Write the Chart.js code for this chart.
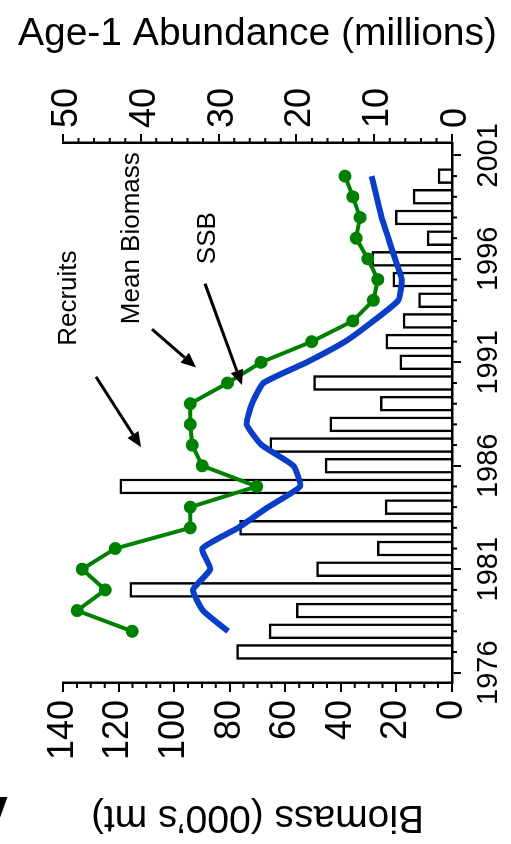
<!DOCTYPE html>
<html>
<head>
<meta charset="utf-8">
<script src="https://cdn.jsdelivr.net/npm/chart.js@4.4.0/dist/chart.umd.min.js"></script>
<style>
  html, body { margin: 0; padding: 0; background: #fff; }
  #frame { position: relative; width: 511px; height: 844px; overflow: hidden; }
  /* the figure is laid out landscape and turned a quarter turn */
  #stockChart { position: absolute; left: 0; top: 0; transform-origin: 0 0; transform: translate(0, 844px) rotate(-90deg); }
</style>
</head>
<body>
<div id="frame"><canvas id="stockChart" width="844" height="511"></canvas></div>
<script>
// age-1 recruits (millions)
const recruitYears = [1977, 1978, 1979, 1980, 1981, 1982, 1983, 1984, 1985, 1986, 1987, 1988,
                      1989, 1990, 1991, 1992, 1993, 1994, 1995, 1996, 1997, 1998, 1999, 2000];
const recruits = [27.7, 23.5, 20.0, 41.4, 17.4, 9.6, 27.3, 8.6, 42.7, 16.3, 23.4, 15.7,
                  9.2, 17.8, 6.7, 8.5, 6.3, 4.3, 7.6, 10.3, 3.2, 7.3, 5.0, 1.8];

// biomass series (000's mt)
const biomassYears = [1978, 1979, 1980, 1981, 1982, 1983, 1984, 1985, 1986, 1987, 1988, 1989,
                      1990, 1991, 1992, 1993, 1994, 1995, 1996, 1997, 1998, 1999, 2000];
const meanBiomass = [115.1, 134.9, 124.8, 133.1, 121.2, 94.2, 94.2, 70.3, 89.9, 93.5, 94.2, 94.2,
                     80.8, 68.7, 50.5, 35.7, 28.3, 26.7, 30.3, 34.5, 33.1, 35.7, 38.5];
const ssb = [80.6, 89.6, 93.2, 87.0, 89.9, 77.0, 66.2, 54.7, 57.1, 68.5, 73.9, 72.0,
             67.9, 52.3, 38.5, 28.3, 19.3, 18.1, 20.5, 22.9, 25.3, 27.1, 28.9];

const yearTicks = [1976, 1981, 1986, 1991, 1996, 2001];
const biomassTicks = [0, 20, 40, 60, 80, 100, 120, 140];
const abundanceTicks = [0, 10, 20, 30, 40, 50];

// callouts, placed in year / biomass units
const calloutText = [
  { text: 'Recruits', year: 1994.1, biomass: 138.0 },
  { text: 'Mean Biomass', year: 1997.0, biomass: 115.1 },
  { text: 'SSB', year: 1997.0, biomass: 87.8 }
];
const calloutArrows = [
  { from: [1990.3, 128.1], to: [1986.9, 111.9] },
  { from: [1992.6, 108.0], to: [1990.75, 92.1] },
  { from: [1994.8, 88.9], to: [1989.9, 75.6] }
];

const FONT = '"Liberation Sans", Arial, Helvetica, sans-serif';

const pairs = (xs, ys) => xs.map((x, i) => ({ x: x, y: ys[i] }));
const fixedTicks = list => scale => { scale.ticks = list.map(v => ({ value: v })); };

// short unlabelled ticks between the long ones
const minorTicks = {
  id: 'minorTicks',
  afterDraw(chart) {
    const { ctx, chartArea: a, scales } = chart;
    ctx.save();
    ctx.strokeStyle = '#000';
    ctx.lineWidth = 2;
    ctx.beginPath();
    for (let yr = Math.ceil(scales.x.min); yr <= scales.x.max; yr++) {
      if (yearTicks.includes(yr)) continue;
      const px = scales.x.getPixelForValue(yr);
      ctx.moveTo(px, a.bottom); ctx.lineTo(px, a.bottom + 5);
    }
    for (let b = 5; b < 140; b += 5) {
      if (b % 20 === 0) continue;
      const py = scales.y.getPixelForValue(b);
      ctx.moveTo(a.left, py); ctx.lineTo(a.left - 5, py);
    }
    for (let n = 2; n < 50; n += 2) {
      if (n % 10 === 0) continue;
      const py = scales.y1.getPixelForValue(n);
      ctx.moveTo(a.right, py); ctx.lineTo(a.right + 5, py);
    }
    ctx.stroke();
    ctx.restore();
  }
};

const callouts = {
  id: 'callouts',
  afterDatasetsDraw(chart) {
    const { ctx, scales } = chart;
    const X = v => scales.x.getPixelForValue(v);
    const Y = v => scales.y.getPixelForValue(v);
    ctx.save();
    ctx.fillStyle = '#000';
    ctx.strokeStyle = '#000';
    ctx.font = '26px ' + FONT;
    ctx.textAlign = 'center';
    ctx.textBaseline = 'middle';
    calloutText.forEach(c => ctx.fillText(c.text, X(c.year), Y(c.biomass)));
    ctx.lineWidth = 3;
    calloutArrows.forEach(ar => {
      const x0 = X(ar.from[0]), y0 = Y(ar.from[1]);
      const x1 = X(ar.to[0]), y1 = Y(ar.to[1]);
      const ang = Math.atan2(y1 - y0, x1 - x0);
      const len = 15, half = 6.5;
      const bx = x1 - len * Math.cos(ang), by = y1 - len * Math.sin(ang);
      ctx.beginPath();
      ctx.moveTo(x0, y0); ctx.lineTo(bx, by);
      ctx.stroke();
      ctx.beginPath();
      ctx.moveTo(x1, y1);
      ctx.lineTo(bx + half * Math.sin(ang), by - half * Math.cos(ang));
      ctx.lineTo(bx - half * Math.sin(ang), by + half * Math.cos(ang));
      ctx.closePath();
      ctx.fill();
    });
    ctx.restore();
  },
  afterDraw(chart) {
    // panel letter, mostly cut off by the edge
    const ctx = chart.ctx;
    ctx.save();
    ctx.translate(31, -12);
    ctx.rotate(-Math.PI / 2);
    ctx.font = 'bold 58px ' + FONT;
    ctx.fillStyle = '#000';
    ctx.textAlign = 'center';
    ctx.textBaseline = 'middle';
    ctx.fillText('A', 0, 0);
    ctx.restore();
  }
};

const axisBase = {
  grid: { display: true, drawOnChartArea: false, drawTicks: true, tickLength: 9, lineWidth: 2, color: '#000', offset: false },
  border: { display: true, color: '#000', width: 2.5 }
};

new Chart(document.getElementById('stockChart').getContext('2d'), {
  type: 'line',
  data: {
    datasets: [
      {
        label: 'Mean Biomass',
        data: pairs(biomassYears, meanBiomass),
        yAxisID: 'y',
        borderColor: '#008000',
        backgroundColor: '#008000',
        borderWidth: 4,
        pointRadius: 6.5,
        pointBorderWidth: 0,
        pointBackgroundColor: '#008000',
        tension: 0,
        order: 1
      },
      {
        label: 'SSB',
        data: pairs(biomassYears, ssb),
        yAxisID: 'y',
        borderColor: '#0a3ec6',
        borderWidth: 6,
        pointRadius: 0,
        tension: 0.15,
        order: 2
      },
      {
        type: 'bar',
        label: 'Recruits',
        data: pairs(recruitYears, recruits),
        yAxisID: 'y1',
        backgroundColor: '#fff',
        borderColor: '#000',
        borderWidth: 2.5,
        barThickness: 15,
        order: 3
      }
    ]
  },
  options: {
    responsive: false,
    animation: false,
    layout: { padding: { top: 63, left: 0, right: 0, bottom: 0 } },
    plugins: { legend: { display: false }, tooltip: { enabled: false } },
    scales: {
      x: {
        ...axisBase,
        type: 'linear',
        position: 'bottom',
        offset: false,
        min: 1975.5,
        max: 2001.6,
        afterBuildTicks: fixedTicks(yearTicks),
        afterFit: s => { s.height = 59; },
        ticks: { autoSkip: false, maxRotation: 0, padding: 11, color: '#000', font: { family: FONT, size: 29 }, callback: v => String(v) }
      },
      y: {
        ...axisBase,
        type: 'linear',
        position: 'left',
        min: 0,
        max: 140,
        afterBuildTicks: fixedTicks(biomassTicks),
        afterFit: s => { s.width = 161; },
        ticks: { padding: 8, color: '#000', font: { family: FONT, size: 36 } },
        title: { display: true, text: 'Biomass (000\u2019s mt)', color: '#000', padding: { top: 4, bottom: 0 }, font: { family: FONT, size: 39 } }
      },
      y1: {
        ...axisBase,
        type: 'linear',
        position: 'right',
        min: 0,
        max: 50,
        afterBuildTicks: fixedTicks(abundanceTicks),
        afterFit: s => { s.width = 143; },
        ticks: { padding: 6, labelOffset: 4, color: '#000', font: { family: FONT, size: 36 } },
        title: { display: true, text: 'Age-1 Abundance (millions)', color: '#000', padding: { top: 11, bottom: 0 }, font: { family: FONT, size: 39 } }
      }
    }
  },
  plugins: [minorTicks, callouts]
});
</script>
</body>
</html>
